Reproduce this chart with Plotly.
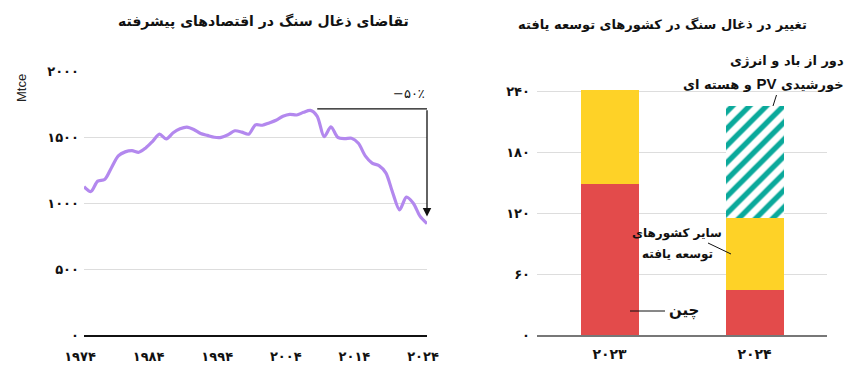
import plotly.graph_objects as go

W, H = 857, 377

# ---------------- data ----------------
years = list(range(1974, 2025))
demand = [1126, 1089, 1168, 1180, 1270, 1360, 1390, 1399, 1387, 1420,
          1470, 1524, 1488, 1535, 1565, 1578, 1560, 1530, 1515, 1501,
          1500, 1520, 1550, 1540, 1524, 1595, 1592, 1610, 1630, 1660,
          1675, 1670, 1690, 1705, 1660, 1505, 1580, 1500, 1490, 1493,
          1455, 1360, 1305, 1285, 1230, 1080, 950, 1046, 1000, 900, 845]

left_yticks = [0, 500, 1000, 1500, 2000]
left_yticklabels = ["۰", "۵۰۰", "۱۰۰۰", "۱۵۰۰", "۲۰۰۰"]
left_xticks = [1974, 1984, 1994, 2004, 2014, 2024]
left_xticklabels = ["۱۹۷۴", "۱۹۸۴", "۱۹۹۴", "۲۰۰۴", "۲۰۱۴", "۲۰۲۴"]

bar_cats = ["۲۰۲۳", "۲۰۲۴"]
china = [149, 44]
other_adv = [92, 71]
displaced = [0, 110]

right_yticks = [0, 60, 120, 180, 240]
right_yticklabels = ["۰", "۶۰", "۱۲۰", "۱۸۰", "۲۴۰"]

peak_level = 1717
arrow_tip = 900

# ---------------- helpers ----------------
def px(x):
    return x / W

def py(y):
    return 1 - y / H

FA = "DejaVu Sans"
BOLD = dict(family=FA, size=13, color="#111", weight="bold")

fig = go.Figure()

fig.add_trace(go.Scatter(
    x=years, y=demand, mode="lines",
    line=dict(color="#B388EE", width=3.2, shape="spline", smoothing=0.8),
    xaxis="x", yaxis="y", showlegend=False, hoverinfo="skip"))

fig.add_trace(go.Bar(x=bar_cats, y=china, marker=dict(color="#E34B4B", line=dict(width=0)),
                     xaxis="x2", yaxis="y2", showlegend=False))
fig.add_trace(go.Bar(x=bar_cats, y=other_adv, marker=dict(color="#FED227", line=dict(width=0)),
                     xaxis="x2", yaxis="y2", showlegend=False))
fig.add_trace(go.Bar(x=bar_cats, y=displaced,
                     marker=dict(color="white", line=dict(width=0),
                                 pattern=dict(shape="/", fgcolor="#0AA99B", bgcolor="white",
                                              size=12, solidity=0.45, fillmode="replace")),
                     xaxis="x2", yaxis="y2", showlegend=False))

fig.update_layout(
    template="none",
    width=W, height=H, margin=dict(l=0, r=0, t=0, b=0, autoexpand=False),
    paper_bgcolor="white", plot_bgcolor="white",
    barmode="stack", bargap=0.6,
    xaxis=dict(domain=[px(84), px(427)], range=[1974, 2024], showgrid=False, automargin=False,
               tickvals=left_xticks, ticktext=left_xticklabels, ticks="",
               ticklabelstandoff=9, ticklabelshift=-4, tickfont=BOLD, zeroline=False,
               showline=True, linecolor="#111", linewidth=1.5, anchor="y"),
    yaxis=dict(domain=[py(335), py(71.5)], range=[0, 2000], tickvals=left_yticks, automargin=False,
               ticktext=left_yticklabels, showgrid=True, gridcolor="#DDDDDD", gridwidth=1,
               zeroline=False, ticks="", tickfont=BOLD, ticklabelstandoff=4, anchor="x"),
    xaxis2=dict(domain=[px(537), px(827)], range=[-0.5, 1.5], type="category", automargin=False,
                showgrid=False, ticks="", tickfont=dict(family=FA, size=14, color="#111", weight="bold"),
                ticklabelstandoff=5,
                showline=True, linecolor="#777", linewidth=2, anchor="y2"),
    yaxis2=dict(domain=[py(335), py(335 - 250 * 61 / 60)], range=[0, 250], automargin=False,
                tickvals=right_yticks, ticktext=right_yticklabels,
                showgrid=True, gridcolor="#DDDDDD", gridwidth=1, zeroline=False,
                ticks="", tickfont=BOLD, ticklabelstandoff=6, anchor="x2"),
)

# peak-to-now arrow
fig.add_shape(type="line", xref="x", yref="y", x0=2008, x1=2024, y0=peak_level, y1=peak_level,
              line=dict(color="#111", width=1.3))
fig.add_annotation(xref="x", yref="y", axref="x", ayref="y", x=2024, y=arrow_tip,
                   ax=2024, ay=peak_level, text="", showarrow=True, arrowhead=2,
                   arrowsize=1.3, arrowwidth=1.3, arrowcolor="#111")
fig.add_annotation(xref="x", yref="y", x=2024, y=peak_level, yshift=6, xanchor="right",
                   yanchor="bottom", text="−۵۰٪", showarrow=False,
                   font=dict(family=FA, size=13, color="#111"))

def label(x, y, text, size=12, anchor="center", family=FA, weight="bold", angle=0, color="#111"):
    fig.add_annotation(xref="paper", yref="paper", x=px(x), y=py(y), text=text,
                       xanchor=anchor, yanchor="middle", showarrow=False, textangle=angle,
                       font=dict(family=family, size=size, color=color, weight=weight))

# titles
label(263, 22, "تقاضای ذغال سنگ در اقتصادهای پیشرفته", size=14)
label(662, 25, "تغییر در ذغال سنگ در کشورهای توسعه یافته", size=13)
label(21, 88, "Mtce", size=13, family="Liberation Sans", weight="normal", angle=-90, color="#222")

# bar labels
label(846, 60, "\u202bدور از باد و انرژی\u202c", size=13, anchor="right")
label(846, 83, "\u202bخورشیدی <span style='font-family:Liberation Sans;font-size:15px'>PV</span> و هسته ای\u202c",
      size=13, anchor="right")
label(677, 233, "سایر کشورهای", size=12)
label(677, 254, "توسعه یافته", size=12)
label(684, 310, "چین", size=15)

for (x0, y0, x1, y1) in [(776.5, 95, 773, 106), (708, 243, 731, 254), (630, 311, 665, 311)]:
    fig.add_shape(type="line", xref="paper", yref="paper", x0=px(x0), y0=py(y0), x1=px(x1), y1=py(y1),
                  line=dict(color="#111", width=1))

fig.write_html("out.html", config={"displayModeBar": False},
               post_script="document.body.style.margin='0';")
